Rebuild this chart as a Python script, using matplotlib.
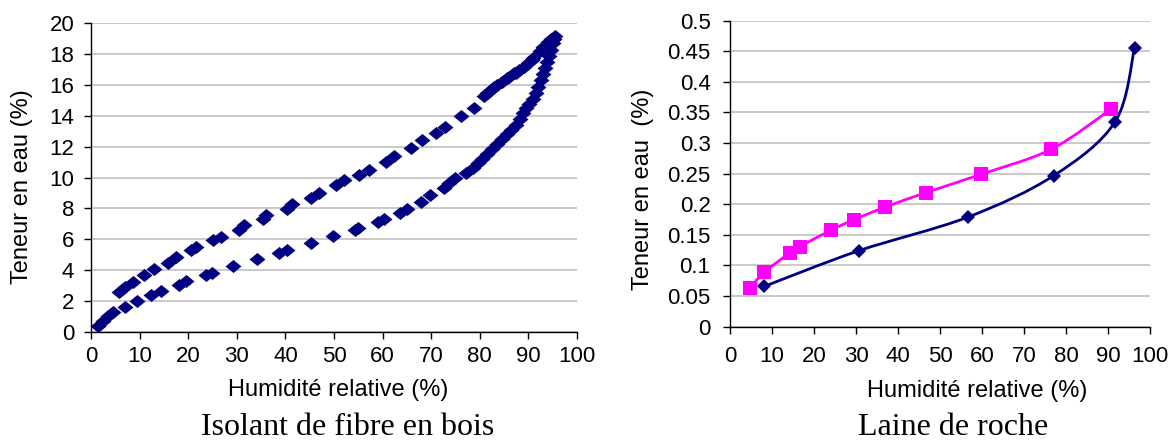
import matplotlib
matplotlib.use("Agg")
import matplotlib.pyplot as plt
from matplotlib.path import Path
from matplotlib.patches import PathPatch

plt.rcParams["font.family"] = ["Liberation Sans", "DejaVu Sans"]

NAVY = "#000080"
MAGENTA = "#FF00FF"
GRID = "#c0c0c0"

# --- Isolant de fibre en bois: sorption (lower branch) ---
wood_ads_rh = [1.4, 2.4, 3.5, 4.6, 7.1, 9.5, 12.4, 14.4, 18.1, 19.6, 23.7, 24.9,
               29.3, 34.1, 38.6, 40.4, 45.3, 49.7, 54.4, 55.0, 59.0, 60.3, 63.5,
               65.1, 67.8, 69.8, 72.6, 73.7, 74.9, 77.1, 78.5, 79.7, 80.5, 81.5,
               82.5, 83.5, 84.5, 85.5, 86.5, 87.5, 88.3, 88.8, 89.5, 90.2, 91.0,
               91.5, 92.0, 92.5, 93.0, 93.4, 93.8, 94.2, 94.6, 95.0, 95.3]
wood_ads_w = [0.39, 0.67, 1.04, 1.26, 1.63, 2.02, 2.35, 2.67, 3.06, 3.26, 3.65, 3.8,
              4.26, 4.73, 5.12, 5.32, 5.75, 6.19, 6.58, 6.75, 7.12, 7.34, 7.73,
              7.99, 8.43, 8.86, 9.29, 9.62, 9.95, 10.27, 10.6, 10.97, 11.2, 11.5,
              11.85, 12.15, 12.5, 12.8, 13.1, 13.4, 13.8, 14.2, 14.5, 14.8, 15.1,
              15.5, 15.9, 16.3, 16.7, 17.1, 17.5, 17.9, 18.3, 18.7, 19.0]

# --- Isolant de fibre en bois: desorption (upper branch) ---
wood_des_rh = [95.4, 94.6, 94.0, 93.0, 92.3, 91.0, 90.7, 90.0, 89.1, 88.0, 87.5,
               87.0, 86.0, 85.6, 84.5, 83.6, 83.0, 82.4, 81.5, 80.8, 78.9, 76.1,
               72.9, 71.0, 68.2, 65.8, 62.3, 60.6, 57.2, 55.2, 52.1, 50.5, 46.9,
               45.3, 41.4, 40.4, 36.1, 35.3, 31.5, 30.4, 26.8, 25.2, 21.7, 20.5,
               17.5, 15.8, 13.0, 11.0, 8.7, 7.1, 5.7]
wood_des_w = [19.17, 18.96, 18.8, 18.45, 18.2, 17.75, 17.65, 17.45, 17.2, 17.0, 16.8,
              16.75, 16.5, 16.46, 16.2, 16.0, 15.85, 15.7, 15.5, 15.27, 14.5, 13.96,
              13.3, 12.88, 12.44, 11.9, 11.4, 11.03, 10.49, 10.16, 9.84, 9.51, 8.97,
              8.64, 8.27, 7.93, 7.56, 7.34, 6.9, 6.58, 6.15, 5.93, 5.49, 5.28,
              4.84, 4.45, 4.08, 3.65, 3.21, 2.89, 2.56]

# --- Laine de roche ---
rock_a_rh = [8.2, 30.6, 56.6, 77.1, 91.7, 96.3]
rock_a_w = [0.066, 0.124, 0.179, 0.247, 0.335, 0.455]

rock_b_rh = [4.7, 8.2, 14.3, 16.7, 24.1, 29.6, 36.8, 46.6, 59.8, 76.5, 90.8]
rock_b_w = [0.063, 0.089, 0.121, 0.131, 0.158, 0.175, 0.195, 0.219, 0.249, 0.29, 0.356]

x_ticks = list(range(0, 101, 10))
left_y_ticks = list(range(0, 21, 2))
right_y_ticks = [0, 0.05, 0.1, 0.15, 0.2, 0.25, 0.3, 0.35, 0.4, 0.45, 0.5]
right_y_labels = ["0", "0.05", "0.1", "0.15", "0.2", "0.25", "0.3", "0.35", "0.4", "0.45", "0.5"]

# slightly flattened diamond, as in the source chart
FLAT_DIAMOND = [(-1, 0), (0, 0.82), (1, 0), (0, -0.82), (-1, 0)]


def smooth_path(xs, ys):
    # Catmull-Rom style bezier, like a spreadsheet "smoothed line"
    pts = list(zip(xs, ys))
    verts = [pts[0]]
    codes = [Path.MOVETO]
    n = len(pts)
    for i in range(n - 1):
        p0 = pts[i - 1] if i > 0 else pts[i]
        p1 = pts[i]
        p2 = pts[i + 1]
        p3 = pts[i + 2] if i + 2 < n else pts[i + 1]
        c1 = (p1[0] + (p2[0] - p0[0]) / 6, p1[1] + (p2[1] - p0[1]) / 6)
        c2 = (p2[0] - (p3[0] - p1[0]) / 6, p2[1] - (p3[1] - p1[1]) / 6)
        verts += [c1, c2, p2]
        codes += [Path.CURVE4] * 3
    return Path(verts, codes)


def style_axes(ax, tick_pad_y, tick_pad_x):
    for side in ("top", "right"):
        ax.spines[side].set_visible(False)
    for side in ("left", "bottom"):
        ax.spines[side].set_color("black")
        ax.spines[side].set_linewidth(1.0)
    ax.set_xlim(0, 100)
    ax.set_xticks(x_ticks)
    ax.yaxis.grid(True, color=GRID, linewidth=1.2)
    ax.set_axisbelow(True)
    ax.tick_params(axis="y", direction="out", length=5, width=1, pad=tick_pad_y, labelsize=16)
    ax.tick_params(axis="x", direction="out", length=5, width=1, pad=tick_pad_x, labelsize=16)


fig = plt.figure(figsize=(11.74, 4.41), dpi=100)

# left panel
ax1 = fig.add_axes([0.0775, 0.2478, 0.414, 0.6993])
ax1.set_ylim(0, 20)
ax1.set_yticks(left_y_ticks)
style_axes(ax1, 7, 5)
ax1.plot(wood_ads_rh, wood_ads_w, linestyle="none", marker=FLAT_DIAMOND, markersize=11.5,
         color=NAVY, markeredgewidth=0, clip_on=False, zorder=3)
ax1.plot(wood_des_rh, wood_des_w, linestyle="none", marker=FLAT_DIAMOND, markersize=11.5,
         color=NAVY, markeredgewidth=0, clip_on=False, zorder=3)
ax1.set_ylabel("Teneur en eau (%)", fontsize=17, va="center")
ax1.yaxis.set_label_coords(-0.142, 0.472)
ax1.set_xlabel("Humidité relative (%)", fontsize=17)
ax1.xaxis.set_label_coords(0.508, -0.189)
ax1.xaxis.label.set_va("center")

# right panel
ax2 = fig.add_axes([0.6218, 0.2592, 0.3578, 0.6939])
ax2.set_ylim(0, 0.5)
ax2.set_yticks(right_y_ticks)
ax2.set_yticklabels(right_y_labels)
style_axes(ax2, 9, 9)
ax2.add_patch(PathPatch(smooth_path(rock_a_rh, rock_a_w), fill=False,
                        edgecolor=NAVY, linewidth=2, zorder=3))
ax2.add_patch(PathPatch(smooth_path(rock_b_rh, rock_b_w), fill=False,
                        edgecolor=MAGENTA, linewidth=2, zorder=3))
ax2.plot(rock_a_rh, rock_a_w, linestyle="none", marker="D", markersize=7.5,
         color=NAVY, markeredgewidth=0, zorder=4)
ax2.plot(rock_b_rh, rock_b_w, linestyle="none", marker="s", markersize=10.5,
         color=MAGENTA, markeredgewidth=0, zorder=4)
ax2.set_ylabel("Teneur en eau  (%)", fontsize=17, va="center")
ax2.yaxis.set_label_coords(-0.207, 0.45)
ax2.set_xlabel("Humidité relative (%)", fontsize=17)
ax2.xaxis.set_label_coords(0.588, -0.21)
ax2.xaxis.label.set_va("center")

# captions under each chart
fig.text(348 / 1174, 0.014, "Isolant de fibre en bois", ha="center", va="baseline",
         fontsize=23, family=["Liberation Serif", "DejaVu Serif"])
fig.text(953 / 1174, 0.014, "Laine de roche", ha="center", va="baseline",
         fontsize=23, family=["Liberation Serif", "DejaVu Serif"])

fig.savefig("out.png", dpi=100)
